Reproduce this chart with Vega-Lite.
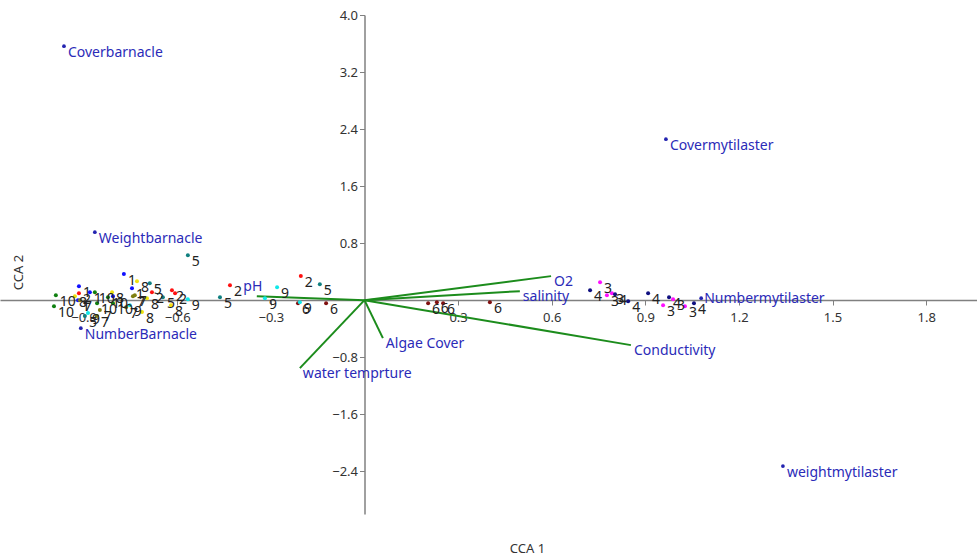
{
  "$schema": "https://vega.github.io/schema/vega-lite/v6.json",
  "width": 977,
  "height": 499,
  "autosize": {"type": "none"},
  "padding": {"left": 0, "top": 15, "right": 0, "bottom": 42},
  "background": "white",
  "config": {"view": {"stroke": null}, "font": "Noto Sans"},
  "datasets": {
    "env": [
      {"name": "pH", "x": -0.345, "y": 0.056},
      {"name": "O2", "x": 0.598, "y": 0.337},
      {"name": "salinity", "x": 0.498, "y": 0.126},
      {"name": "Conductivity", "x": 0.854, "y": -0.631},
      {"name": "Algae  Cover", "x": 0.059, "y": -0.533},
      {"name": "water temprture", "x": -0.207, "y": -0.954}
    ],
    "species": [
      {"name": "Coverbarnacle", "x": -0.963, "y": 3.562},
      {"name": "Covermytilaster", "x": 0.966, "y": 2.258},
      {"name": "Weightbarnacle", "x": -0.864, "y": 0.954},
      {"name": "NumberBarnacle", "x": -0.909, "y": -0.393},
      {"name": "Numbermytilaster", "x": 1.079, "y": 0.028},
      {"name": "weightmytilaster", "x": 1.341, "y": -2.328}
    ],
    "samples": [
      {"g": "3", "x": 0.777, "y": 0.070},
      {"g": "3", "x": 0.793, "y": 0.098},
      {"g": "3", "x": 0.957, "y": -0.070},
      {"g": "3", "x": 1.027, "y": -0.084},
      {"g": "3", "x": 0.989, "y": 0.014},
      {"g": "3", "x": 0.755, "y": 0.252},
      {"g": "4", "x": 0.723, "y": 0.140},
      {"g": "4", "x": 0.803, "y": 0.084},
      {"g": "4", "x": 0.845, "y": -0.014},
      {"g": "4", "x": 0.909, "y": 0.098},
      {"g": "4", "x": 0.976, "y": 0.042},
      {"g": "4", "x": 1.056, "y": -0.042},
      {"g": "6", "x": 0.204, "y": -0.042},
      {"g": "6", "x": 0.232, "y": -0.028},
      {"g": "6", "x": 0.252, "y": -0.042},
      {"g": "6", "x": 0.402, "y": -0.028},
      {"g": "6", "x": -0.213, "y": -0.042},
      {"g": "6", "x": -0.123, "y": -0.042},
      {"g": "9", "x": -0.280, "y": 0.182},
      {"g": "9", "x": -0.207, "y": -0.028},
      {"g": "9", "x": -0.319, "y": 0.028},
      {"g": "9", "x": -0.566, "y": 0.014},
      {"g": "9", "x": -0.752, "y": -0.070},
      {"g": "9", "x": -0.886, "y": -0.182},
      {"g": "2", "x": -0.431, "y": 0.210},
      {"g": "2", "x": -0.204, "y": 0.337},
      {"g": "2", "x": -0.617, "y": 0.140},
      {"g": "2", "x": -0.607, "y": 0.098},
      {"g": "2", "x": -0.681, "y": 0.112},
      {"g": "2", "x": -0.915, "y": 0.098},
      {"g": "5", "x": -0.566, "y": 0.631},
      {"g": "5", "x": -0.463, "y": 0.042},
      {"g": "5", "x": -0.688, "y": 0.238},
      {"g": "5", "x": -0.646, "y": 0.042},
      {"g": "5", "x": -0.143, "y": 0.224},
      {"g": "5", "x": -0.896, "y": -0.224},
      {"g": "1", "x": -0.915, "y": 0.196},
      {"g": "1", "x": -0.745, "y": 0.168},
      {"g": "1", "x": -0.806, "y": 0.056},
      {"g": "1", "x": -0.771, "y": 0.365},
      {"g": "1", "x": -0.918, "y": 0.000},
      {"g": "1", "x": -0.880, "y": 0.112},
      {"g": "10", "x": -0.864, "y": 0.112},
      {"g": "10", "x": -0.822, "y": 0.042},
      {"g": "10", "x": -0.989, "y": 0.070},
      {"g": "10", "x": -0.995, "y": -0.084},
      {"g": "10", "x": -0.857, "y": -0.042},
      {"g": "10", "x": -0.806, "y": -0.042},
      {"g": "8", "x": -0.809, "y": 0.112},
      {"g": "8", "x": -0.697, "y": 0.028},
      {"g": "8", "x": -0.620, "y": -0.070},
      {"g": "8", "x": -0.713, "y": -0.168},
      {"g": "8", "x": -0.729, "y": 0.266},
      {"g": "8", "x": -0.928, "y": 0.056},
      {"g": "7", "x": -0.736, "y": 0.070},
      {"g": "7", "x": -0.848, "y": -0.140},
      {"g": "7", "x": -0.764, "y": -0.098},
      {"g": "7", "x": -0.912, "y": 0.000},
      {"g": "7", "x": -0.857, "y": -0.224},
      {"g": "7", "x": -0.742, "y": 0.056}
    ]
  },
  "encoding": {
    "x": {
      "field": "x",
      "type": "quantitative",
      "scale": {"domain": [-1.168, 1.963], "nice": false, "zero": false},
      "axis": {
        "orient": "bottom",
        "offset": -214,
        "values": [-0.9, -0.6, -0.3, 0.3, 0.6, 0.9, 1.2, 1.5, 1.8],
        "format": ".1f",
        "grid": false,
        "domainColor": "#808080",
        "domainWidth": 1.5,
        "tickColor": "#808080",
        "tickSize": 5,
        "labelColor": "#333333",
        "labelFontSize": 13,
        "labelFont": "Noto Sans",
        "labelPadding": 6,
        "labelOverlap": false,
        "labelFlush": false,
        "title": "CCA 1",
        "titleX": 527,
        "titleY": 248,
        "titleAlign": "center",
        "titleBaseline": "middle",
        "titleFontWeight": "normal",
        "titleFontSize": 13,
        "titleFont": "Noto Sans",
        "titleColor": "#333333"
      }
    },
    "y": {
      "field": "y",
      "type": "quantitative",
      "scale": {"domain": [-3.0, 4.0], "nice": false, "zero": false},
      "axis": {
        "orient": "left",
        "offset": -364.5,
        "values": [-2.4, -1.6, -0.8, 0.8, 1.6, 2.4, 3.2, 4.0],
        "format": ".1f",
        "grid": false,
        "domainColor": "#808080",
        "domainWidth": 1.5,
        "tickColor": "#808080",
        "tickSize": 5,
        "labelColor": "#333333",
        "labelFontSize": 13,
        "labelFont": "Noto Sans",
        "labelPadding": 2,
        "labelOverlap": false,
        "labelFlush": false,
        "title": "CCA 2",
        "titleX": -346.5,
        "titleY": 257,
        "titleAngle": -90,
        "titleAlign": "center",
        "titleBaseline": "middle",
        "titleFontWeight": "normal",
        "titleFontSize": 13,
        "titleFont": "Noto Sans",
        "titleColor": "#333333"
      }
    }
  },
  "layer": [
    {
      "data": {"name": "env"},
      "mark": {"type": "rule", "color": "#1c8c1c", "strokeWidth": 2},
      "encoding": {"x2": {"datum": 0}, "y2": {"datum": 0}}
    },
    {
      "data": {"name": "samples"},
      "mark": {"type": "circle", "size": 16, "opacity": 1},
      "encoding": {
        "color": {
          "field": "g",
          "type": "nominal",
          "scale": {
            "domain": ["1", "2", "3", "4", "5", "6", "7", "8", "9", "10"],
            "range": ["#1010ff", "#ff1010", "#ff10ff", "#101080", "#108080", "#801010", "#808010", "#f0e010", "#10e8e8", "#108010"]
          },
          "legend": null
        }
      }
    },
    {
      "data": {"name": "samples"},
      "mark": {"type": "text", "align": "left", "baseline": "middle", "dx": 4, "dy": 7, "fontSize": 14, "font": "Noto Sans", "color": "#222222"},
      "encoding": {"text": {"field": "g"}}
    },
    {
      "data": {"name": "species"},
      "mark": {"type": "circle", "size": 14, "opacity": 1, "color": "#2424b0"},
      "encoding": {}
    },
    {
      "data": {"name": "species"},
      "transform": [{"filter": "datum.name != 'Numbermytilaster'"}],
      "mark": {"type": "text", "align": "left", "baseline": "middle", "dx": 4, "dy": 7, "fontSize": 14, "font": "Noto Sans", "color": "#2b2bb8"},
      "encoding": {"text": {"field": "name"}}
    },
    {
      "data": {"name": "species"},
      "transform": [{"filter": "datum.name == 'Numbermytilaster'"}],
      "mark": {"type": "text", "align": "left", "baseline": "middle", "dx": 3, "dy": 1, "fontSize": 14, "font": "Noto Sans", "color": "#2b2bb8"},
      "encoding": {"text": {"field": "name"}}
    },
    {
      "data": {"name": "env"},
      "transform": [{"filter": "datum.name != 'pH'"}],
      "mark": {"type": "text", "align": "left", "baseline": "middle", "dx": 3, "dy": 6, "fontSize": 14, "font": "Noto Sans", "color": "#2b2bb8"},
      "encoding": {"text": {"field": "name"}}
    },
    {
      "data": {"name": "env"},
      "transform": [{"filter": "datum.name == 'pH'"}],
      "mark": {"type": "text", "align": "center", "baseline": "middle", "dx": -4, "dy": -9, "fontSize": 14, "font": "Noto Sans", "color": "#2b2bb8"},
      "encoding": {"text": {"field": "name"}}
    }
  ]
}
